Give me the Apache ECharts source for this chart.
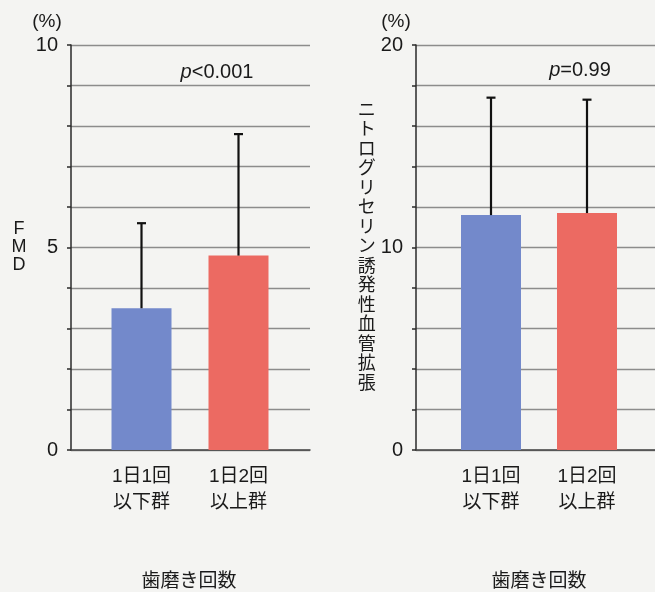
<!DOCTYPE html>
<html>
<head>
<meta charset="utf-8">
<script src="https://cdn.jsdelivr.net/npm/echarts@6/dist/echarts.min.js"></script>
<style>
  html, body { margin: 0; padding: 0; background: #f4f4f2; }
  #chart { width: 655px; height: 592px; }
</style>
</head>
<body>
<div id="chart"></div>
<script>
// Groups by tooth-brushing frequency
const groups = ['1日1回\n以下群', '1日2回\n以上群'];
const xTitle = '歯磨き回数';

// Flow-mediated dilation (%)
const fmdMean = [3.5, 4.8];
const fmdSD = [2.1, 3.0];
const fmdP = '<0.001';

// Nitroglycerin-induced dilation (%)
const ntgMean = [11.6, 11.7];
const ntgSD = [5.8, 5.6];
const ntgP = '=0.99';

const barColors = ['#7389cb', '#ec6a62'];
const FONT = '"Liberation Sans", "Noto Sans CJK JP", sans-serif';
const TEXT = '#1a1a1a';

const chart = echarts.init(document.getElementById('chart'));

const grid = [], xAxis = [], yAxis = [], series = [], graphic = [];

function panel(cfg) {
  const frameIdx = grid.length;
  const barIdx = frameIdx + 1;
  // frame: y axis, ticks, grid lines, baseline
  grid.push({ left: cfg.axisX, top: 45, width: cfg.frameW, height: 405 });
  // bars: narrower band so both bars sit inside the frame
  grid.push({ left: cfg.barLeft, top: 45, width: cfg.barW, height: 405 });

  xAxis.push({
    gridIndex: frameIdx, type: 'value', min: 0, max: 1,
    axisLine: { show: true, lineStyle: { color: '#444', width: 1.5 } },
    axisTick: { show: false }, axisLabel: { show: false }, splitLine: { show: false }
  });
  yAxis.push({
    gridIndex: frameIdx, type: 'value', min: 0, max: cfg.max, interval: cfg.interval,
    name: cfg.yName, nameLocation: 'middle', nameRotate: 0, nameGap: cfg.nameGap,
    nameTextStyle: { color: TEXT, fontFamily: FONT, fontSize: cfg.nameSize,
                     lineHeight: cfg.nameLine, align: 'center', verticalAlign: 'middle' },
    axisLine: { show: true, lineStyle: { color: '#2a2a2a', width: 1.5 } },
    axisTick: { show: true, length: 4, lineStyle: { color: '#2a2a2a', width: 1.5 } },
    axisLabel: {
      color: TEXT, fontFamily: FONT, fontSize: 20, margin: 13,
      formatter: v => (v % cfg.labelStep === 0 ? String(v) : '')
    },
    splitLine: { show: true, lineStyle: { color: '#8c8c8c', width: 1.3 } }
  });

  xAxis.push({
    gridIndex: barIdx, type: 'category', data: groups,
    axisLine: { show: false }, axisTick: { show: false }, splitLine: { show: false },
    axisLabel: { color: TEXT, fontFamily: FONT, fontSize: 19, lineHeight: 26, margin: 14 }
  });
  yAxis.push({
    gridIndex: barIdx, type: 'value', min: 0, max: cfg.max, show: false,
    splitLine: { show: false }
  });

  series.push({
    type: 'bar', xAxisIndex: barIdx, yAxisIndex: barIdx,
    barWidth: 60, silent: true,
    data: cfg.mean.map((m, i) => ({ value: m, itemStyle: { color: barColors[i] } }))
  });
  series.push({
    type: 'custom', xAxisIndex: barIdx, yAxisIndex: barIdx, silent: true, z: 3,
    data: cfg.mean.map((m, i) => [i, m, m + cfg.sd[i]]),
    renderItem: (params, api) => {
      const base = api.coord([api.value(0), api.value(1)]);
      const top = api.coord([api.value(0), api.value(2)]);
      const style = { stroke: '#111', lineWidth: 2.2 };
      return {
        type: 'group',
        children: [
          { type: 'line', shape: { x1: base[0], y1: base[1], x2: top[0], y2: top[1] }, style },
          { type: 'line', shape: { x1: top[0] - 4.5, y1: top[1], x2: top[0] + 4.5, y2: top[1] }, style }
        ]
      };
    }
  });

  graphic.push(
    { type: 'text', x: cfg.pctX, y: 22,
      style: { text: '(%)', font: '19px ' + FONT, fill: TEXT, align: 'center', verticalAlign: 'middle' } },
    { type: 'text', x: cfg.pX, y: cfg.pY,
      style: {
        text: '{i|p}{n|' + cfg.p + '}', align: 'center', verticalAlign: 'middle',
        rich: {
          i: { fontFamily: FONT, fontSize: 20, fontStyle: 'italic', fill: TEXT },
          n: { fontFamily: FONT, fontSize: 20, fill: TEXT }
        }
      } },
    { type: 'text', x: cfg.titleX, y: 582,
      style: { text: xTitle, font: '19px ' + FONT, fill: TEXT, align: 'center', verticalAlign: 'middle' } }
  );
}

panel({
  axisX: 71, frameW: 239, barLeft: 93, barW: 194,
  max: 10, interval: 1, labelStep: 5,
  yName: 'F\nM\nD', nameGap: 52, nameSize: 18, nameLine: 18,
  mean: fmdMean, sd: fmdSD, p: fmdP,
  pctX: 47, pX: 217, pY: 72, titleX: 189
});

panel({
  axisX: 416, frameW: 239, barLeft: 443, barW: 192,
  max: 20, interval: 2, labelStep: 10,
  yName: 'ニトログリセリン誘発性血管拡張'.split('').join('\n'), nameGap: 48, nameSize: 18, nameLine: 19.5,
  mean: ntgMean, sd: ntgSD, p: ntgP,
  pctX: 396, pX: 580, pY: 70, titleX: 539
});

chart.setOption({
  backgroundColor: '#f4f4f2',
  animation: false,
  grid, xAxis, yAxis, series, graphic
});
</script>
</body>
</html>
